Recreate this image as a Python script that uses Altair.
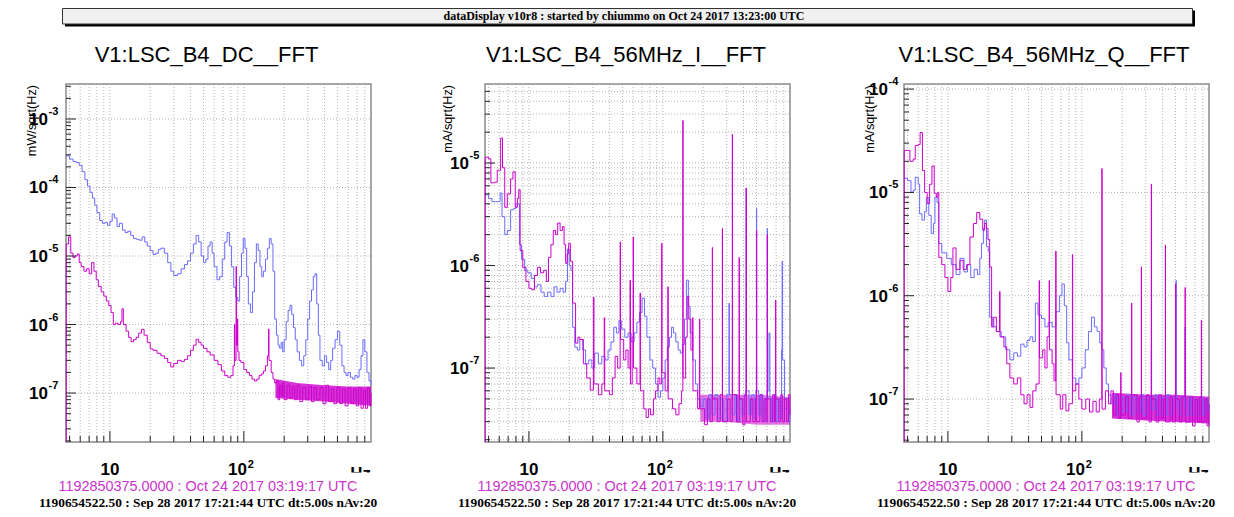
import altair as alt
import pandas as pd

SANS = "Liberation Sans"
SERIF = "Liberation Serif"
BLUE = "#6a6aff"
MAGENTA = "#cc00cc"
PINK = "#cc33cc"

BANNER = "dataDisplay v10r8 : started by chiummo on Oct 24 2017 13:23:00 UTC"
TITLES = ["V1:LSC_B4_DC__FFT", "V1:LSC_B4_56MHz_I__FFT", "V1:LSC_B4_56MHz_Q__FFT"]
UNITS = ["mW/sqrt(Hz)", "mA/sqrt(Hz)", "mA/sqrt(Hz)"]
TIME_NOW = "1192850375.0000 : Oct 24 2017 03:19:17 UTC"
TIME_REF = "1190654522.50 : Sep 28 2017 17:21:44 UTC dt:5.00s nAv:20"
X_TITLE = "Hz"

X_DOMAIN = [4.7, 890]
X_MINOR = [5, 6, 7, 8, 9, 20, 30, 40, 50, 60, 70, 80, 90, 200, 300, 400, 500, 600, 700, 800]
X_MAJOR = [10, 100]
Y_DOMAINS = [[1.93e-8, 3.24e-3], [1.9e-8, 5.9e-5], [3.84e-8, 1.12e-4]]
Y_EXPS = [[-3, -4, -5, -6, -7], [-5, -6, -7], [-4, -5, -6, -7]]
MANT = [2, 3, 4, 5, 6, 7, 8, 9]

# ---------------- panel 1 : V1:LSC_B4_DC__FFT ----------------
P1_BLUE = [(4.7,2.9e-4),(5.0,2.6e-4),(5.3,2.4e-4),(5.6,2.3e-4),(5.9,2.1e-4),(6.2,1.7e-4),(6.5,1.3e-4),(6.8,1.05e-4),(7.1,8.5e-5),(7.4,7.0e-5),(7.7,5.5e-5),(8.0,4.3e-5),(8.4,3.3e-5),(8.8,3.0e-5),(9.2,3.1e-5),(9.6,2.8e-5),(10.0,3.2e-5),(10.4,4.1e-5),(10.8,3.6e-5),(11.3,2.7e-5),(11.8,3.0e-5),(12.4,2.4e-5),(13.0,2.2e-5),(13.6,2.3e-5),(14.3,2.0e-5),(15.0,1.8e-5),(15.8,1.75e-5),(16.6,1.7e-5),(17.4,1.9e-5),(18.2,1.6e-5),(19.0,1.4e-5),(20.0,1.2e-5),(21.0,1.05e-5),(22.0,1.1e-5),(23.0,1.25e-5),(24.0,1.3e-5),(25.5,1.1e-5),(27,8e-6),(28.5,6e-6),(30,5.2e-6),(32,5.5e-6),(34,6.5e-6),(36,7.5e-6),(38,8.5e-6),(40,1.1e-5),(42,1.5e-5),(44,2.0e-5),(46,1.6e-5),(48,1.0e-5),(50,8e-6),(52,9e-6),(54,1.4e-5),(56,1.6e-5),(58,1.1e-5),(60,7e-6),(63,4.5e-6),(66,5e-6),(69,9e-6),(72,1.6e-5),(75,2.2e-5),(78,1.4e-5),(81,7e-6),(84,3.5e-6),(87,2.5e-6),(90,2.2e-6),(93,5e-6),(96,1.1e-5),(99,1.8e-5),(102,1.3e-5),(105,5e-6),(108,2e-6),(112,1.5e-6),(116,3e-6),(120,8e-6),(124,1.5e-5),(128,1.2e-5),(132,7e-6),(136,5e-6),(140,6e-6),(145,9e-6),(150,1.3e-5),(155,1.8e-5),(160,1.5e-5),(165,6e-6),(170,1.2e-6),(175,7e-7),(180,5e-7),(185,4.5e-7),(190,5.5e-7),(195,4e-7),(200,6e-7),(207,1.1e-6),(214,1.6e-6),(221,1.9e-6),(228,1.4e-6),(235,9e-7),(242,6e-7),(250,4e-7),(260,3e-7),(270,2.5e-7),(280,3.5e-7),(290,6e-7),(300,1.2e-6),(310,2.2e-6),(320,3.2e-6),(330,5e-6),(340,5.5e-6),(350,2e-6),(360,7e-7),(370,3e-7),(385,2.5e-7),(400,3.5e-7),(415,2.8e-7),(430,2.2e-7),(445,3e-7),(460,4.5e-7),(480,6e-7),(500,8e-7),(520,5e-7),(540,2.5e-7),(560,2e-7),(580,1.8e-7),(600,2e-7),(625,1.7e-7),(650,1.6e-7),(675,1.8e-7),(700,1.7e-7),(725,2.2e-7),(750,3.5e-7),(775,6e-7),(800,4e-7),(830,2e-7),(860,1.5e-7),(890,1.3e-7)]
P1_MAG = [(4.7,1e-9),(4.72,1.5e-5),(4.9,1.9e-5),(5.1,1.1e-5),(5.3,9.5e-6),(5.5,1.0e-5),(5.7,1.07e-5),(5.9,8e-6),(6.1,7e-6),(6.4,6e-6),(6.7,6.5e-6),(7.0,5.5e-6),(7.3,8e-6),(7.6,6e-6),(7.9,4.5e-6),(8.2,3.6e-6),(8.6,3e-6),(9.0,2.6e-6),(9.4,2.2e-6),(9.8,1.9e-6),(10.2,1.5e-6),(10.6,1.0e-6),(11.0,1.05e-6),(11.5,1.0e-6),(12.0,1.1e-6),(12.3,1.7e-6),(12.6,1.0e-6),(13.2,8e-7),(13.8,6.5e-7),(14.4,5.6e-7),(15.0,6e-7),(15.7,6.5e-7),(16.4,7.5e-7),(17.2,8.5e-7),(18.0,7e-7),(19.0,5.5e-7),(20.0,4.4e-7),(21.0,4.2e-7),(22.5,3.8e-7),(24.0,3.5e-7),(25.5,3.2e-7),(27.0,2.8e-7),(28.5,2.4e-7),(30,2.7e-7),(32,3e-7),(34,2.9e-7),(36,3.1e-7),(38,3.5e-7),(40,4.2e-7),(42,5e-7),(44,6.1e-7),(46,5.5e-7),(48,5e-7),(50,4.5e-7),(53,4e-7),(56,3.6e-7),(60,3e-7),(64,2.6e-7),(68,2.1e-7),(72,1.8e-7),(76,1.7e-7),(80,1.8e-7),(83,2.5e-7),(85,1.0e-6),(85.6,3e-7),(87.5,7e-6),(88.1,5e-7),(89.5,1.2e-6),(90.1,4e-7),(92,3e-7),(95,2.8e-7),(100,2.2e-7),(105,2e-7),(110,1.8e-7),(115,1.6e-7),(120,1.5e-7),(125,1.6e-7),(130,1.8e-7),(135,1.9e-7),(140,2.1e-7),(145,2.5e-7),(150,3.5e-7),(153,8.6e-7),(154,3e-7),(160,2e-7),(165,1.6e-7),(170,1.4e-7),(175,1.5e-7),(180,8e-8),(185,1.3e-7),(190,9e-8),(195,1.4e-7),(200,8e-8),(210,1.3e-7),(220,8.5e-8),(230,1.25e-7),(240,8e-8),(250,1.3e-7),(262,7.5e-8),(275,1.2e-7),(290,8e-8),(305,1.25e-7),(320,7.5e-8),(335,1.2e-7),(350,8e-8),(370,1.2e-7),(390,7e-8),(410,1.3e-7),(430,7.5e-8),(450,1.15e-7),(470,7e-8),(495,1.2e-7),(520,7e-8),(545,1.15e-7),(570,6.5e-8),(600,1.2e-7),(630,7e-8),(660,1.15e-7),(690,6.5e-8),(720,1.2e-7),(750,6e-8),(780,1.1e-7),(810,6e-8),(840,1.2e-7),(870,6.5e-8),(890,1e-7)]
P1_BAND_F = [172, 250, 400, 600, 890]
P1_BAND_LO = [8.5e-8, 8e-8, 7.5e-8, 7e-8, 6.5e-8]
P1_BAND_HI = [1.6e-7, 1.4e-7, 1.3e-7, 1.25e-7, 1.25e-7]

# ---------------- panel 2 : V1:LSC_B4_56MHz_I__FFT ----------------
P2_BLUE = [(4.72,4.9e-6),(5.0,4.5e-6),(5.3,4.2e-6),(5.6,4.2e-6),(5.9,4.2e-6),(6.1,5.1e-6),(6.3,3e-6),(6.6,2e-6),(6.9,2.2e-6),(7.3,3.5e-6),(7.7,3.6e-6),(8.0,4e-6),(8.3,4e-6),(8.5,1.6e-6),(8.8,1.15e-6),(9.3,9e-7),(9.8,8.5e-7),(10.4,7.5e-7),(11.0,6.2e-7),(11.6,6.5e-7),(12.3,5.5e-7),(13.0,5e-7),(13.8,5.5e-7),(14.6,5e-7),(15.4,6.2e-7),(16.2,5.5e-7),(17.1,6e-7),(18.0,5.5e-7),(18.8,7e-7),(19.4,1.45e-6),(20.0,1.0e-6),(20.6,9e-7),(21.2,2.5e-7),(22.0,1.6e-7),(23.0,1.5e-7),(24.0,1.9e-7),(25.2,1.5e-7),(26.5,1.1e-7),(28.0,1.2e-7),(29.5,1.0e-7),(31,1.4e-7),(33,1.1e-7),(35,1.3e-7),(37,1.2e-7),(39,1.5e-7),(41,1.8e-7),(43,2.5e-7),(45,2.2e-7),(47,2.9e-7),(49,2.4e-7),(52,2e-7),(55,2.2e-7),(58,1.8e-7),(61,2.2e-7),(64,2.8e-7),(67,3.5e-7),(70,4.8e-7),(73,3.2e-7),(76,2e-7),(80,1.2e-7),(84,1e-7),(88,7e-8),(92,5.2e-8),(96,6e-8),(100,8e-8),(104,1.2e-7),(108,1.6e-7),(112,2e-7),(116,2.5e-7),(120,2.2e-7),(125,1.8e-7),(130,1.5e-7),(135,1.4e-7),(140,1.7e-7),(145,3e-7),(150,7.2e-7),(155,4e-7),(160,2.2e-7),(167,1.2e-7),(175,7e-8),(182,5e-8),(190,4.2e-8),(200,5e-8),(210,3.2e-8),(220,5.5e-8),(232,3.5e-8),(245,5.5e-8),(258,3.2e-8),(270,5e-8),(285,3e-8),(300,5.5e-8),(312,4.3e-7),(313.5,5.5e-8),(330,3.5e-8),(345,5.5e-8),(360,3e-8),(375,5e-8),(390,3.5e-8),(405,5.5e-8),(415,6e-8),(419,5.7e-6),(421,6e-8),(440,3.5e-8),(460,5.5e-8),(480,3.2e-8),(495,6e-8),(500,3.6e-6),(502,6e-8),(520,3.5e-8),(540,5.5e-8),(560,3e-8),(580,5e-8),(598,6e-8),(602,2.3e-6),(604,6e-8),(620,2.2e-7),(630,5e-8),(650,3e-8),(675,5.5e-8),(700,3e-8),(725,5e-8),(750,3.2e-8),(770,1.5e-7),(778,1.1e-6),(781,1.2e-7),(810,4e-8),(840,5e-8),(865,3e-8),(890,4e-8)]
P2_MAG = [(4.7,1e-9),(4.72,1.14e-5),(5.0,1.1e-5),(5.2,6.4e-6),(5.5,6.5e-6),(5.8,8.5e-6),(6.0,8.5e-6),(6.15,1.75e-5),(6.35,9e-6),(6.6,3.7e-6),(6.9,5e-6),(7.3,7e-6),(7.6,8.2e-6),(7.9,3.7e-6),(8.2,4.5e-6),(8.4,5.5e-6),(8.6,1.4e-6),(9.0,9.6e-7),(9.5,7e-7),(10.0,6e-7),(10.5,5.8e-7),(11.0,8e-7),(11.6,9.6e-7),(12.2,8.5e-7),(12.9,9e-7),(13.5,7e-7),(14.0,1.2e-6),(14.6,1.6e-6),(15.2,2.2e-6),(15.8,2.0e-6),(16.4,2.6e-6),(17.1,2.2e-6),(17.8,2.4e-6),(18.3,1.6e-6),(18.8,1.05e-6),(19.3,1.3e-6),(19.8,1.65e-6),(20.4,1.1e-6),(21.2,4.3e-7),(22.3,1.75e-7),(23.2,2e-7),(24.0,1.9e-7),(25.5,1.1e-7),(27,8e-8),(28.7,6.1e-8),(30.3,4.9e-7),(30.6,7e-8),(33,5.5e-8),(35,7e-8),(36.5,3.1e-7),(36.8,6e-8),(40,5.5e-8),(42,8e-8),(44,1.3e-7),(46,1.0e-7),(48,1.7e-6),(48.3,1.9e-7),(51,1.2e-7),(53,1.5e-7),(55,1.0e-7),(56.9,7.2e-7),(57.3,7e-8),(59,2e-7),(60,1.9e-6),(60.4,1e-7),(64,7e-8),(67.6,5.4e-7),(68,6e-8),(72,4e-8),(75,3.3e-8),(78,4e-8),(81,3.5e-8),(85,5e-8),(88,6e-8),(92,8e-8),(95,7e-8),(98,1.65e-6),(98.5,9e-8),(104,6e-8),(109,6.2e-7),(109.6,5e-8),(118,4e-8),(125,3.5e-8),(132,4.5e-8),(138,6e-8),(141,2.6e-5),(141.6,8e-8),(148,2e-7),(152,5e-7),(156,3e-7),(162,1.5e-7),(167,3.1e-7),(167.8,6e-8),(182,4e-8),(188,3e-7),(188.8,4e-8),(205,2.8e-8),(215,5e-8),(225,3e-8),(234,1.5e-6),(235,5e-8),(255,3e-8),(268,5.5e-8),(278,2.3e-6),(279,3e-8),(305,5e-8),(318,3e-8),(330,1.9e-5),(331.5,5.5e-8),(355,3e-8),(371,1.2e-6),(372.5,5e-8),(395,2.8e-8),(410,5.5e-8),(419,5.7e-6),(420.5,3e-8),(450,5e-8),(470,3e-8),(490,5e-8),(500,2.2e-6),(502,3e-8),(530,5.5e-8),(550,3e-8),(570,5e-8),(590,3e-8),(602,2.0e-6),(604,5e-8),(635,3e-8),(660,5.5e-8),(680,3e-8),(695,4.6e-7),(697,5e-8),(735,3e-8),(760,5.5e-8),(785,3e-8),(810,5e-8),(840,3e-8),(865,5.5e-8),(890,3.5e-8)]
P2_BAND_F = [190, 300, 500, 890]
P2_BAND_LO = [3e-8, 3e-8, 2.8e-8, 2.8e-8]
P2_BAND_HI = [5.5e-8, 5.5e-8, 5.5e-8, 5.2e-8]

# ---------------- panel 3 : V1:LSC_B4_56MHz_Q__FFT ----------------
P3_BLUE = [(4.72,1.37e-5),(5.0,1.3e-5),(5.3,1.0e-5),(5.5,1.05e-5),(5.7,1.4e-5),(6.0,1.2e-5),(6.15,6.2e-6),(6.4,5.4e-6),(6.7,6.5e-6),(6.9,8.9e-6),(7.2,6e-6),(7.5,4e-6),(7.8,5e-6),(8.0,9e-6),(8.3,8e-6),(8.55,3.2e-6),(9.0,2.6e-6),(9.8,2.3e-6),(10.6,2.0e-6),(11.5,1.6e-6),(12.3,2.3e-6),(13.2,1.7e-6),(14.0,2.0e-6),(14.8,1.5e-6),(15.7,1.8e-6),(16.6,1.6e-6),(17.3,2.3e-6),(17.8,3.2e-6),(18.4,4.5e-6),(18.8,5.4e-6),(19.4,3e-6),(20.0,2.7e-6),(20.5,6.2e-7),(21.6,5e-7),(23,4.5e-7),(25,4e-7),(27,3e-7),(29,2.4e-7),(31,2.8e-7),(33,2.6e-7),(35,3.4e-7),(37,3.2e-7),(39,3.7e-7),(41,4e-7),(43,3.6e-7),(45,8.5e-7),(47,6.5e-7),(50,6e-7),(53,5e-7),(56,5.5e-7),(60,5e-7),(64,7e-7),(68,1.0e-6),(71,1.3e-6),(74,8e-7),(77,3.5e-7),(80,2.4e-7),(85,1.6e-7),(90,1.4e-7),(95,1.6e-7),(100,2e-7),(106,3e-7),(112,4.5e-7),(118,6.2e-7),(124,5e-7),(130,4.5e-7),(136,3.5e-7),(141,3e-7),(146,2e-7),(152,1.4e-7),(158,1.1e-7),(165,9e-8),(175,1.1e-7),(185,7e-8),(195,1.05e-7),(205,7.5e-8),(218,1.1e-7),(230,7e-8),(245,1.05e-7),(260,7.5e-8),(275,1.1e-7),(290,7e-8),(310,1.05e-7),(326,8e-8),(330,3e-7),(331.5,8e-8),(350,1.1e-7),(365,7e-8),(385,1.05e-7),(405,7e-8),(430,1.1e-7),(455,7e-8),(480,1.05e-7),(500,8e-8),(505,1.4e-6),(507,1e-7),(530,7e-8),(555,1.05e-7),(585,8e-8),(590,5e-7),(592,7e-8),(625,1.05e-7),(655,7e-8),(690,1e-7),(725,7e-8),(760,1.05e-7),(800,7e-8),(840,1e-7),(870,7.5e-8),(890,9e-8)]
P3_MAG = [(4.7,1e-9),(4.72,2.55e-5),(5.0,2.55e-5),(5.2,2.0e-5),(5.5,2.1e-5),(5.7,2.85e-5),(6.0,2.9e-5),(6.2,3.8e-5),(6.45,1.63e-5),(6.7,1e-5),(7.0,7.8e-6),(7.3,1.2e-5),(7.6,1.8e-5),(7.9,9.8e-6),(8.2,9e-6),(8.4,1e-5),(8.55,2.35e-6),(9.0,2.0e-6),(9.5,1.5e-6),(10.0,1.1e-6),(10.5,1.5e-6),(10.9,2.9e-6),(11.5,1.8e-6),(12.3,2.2e-6),(13.0,1.8e-6),(13.8,2.0e-6),(14.6,3.7e-6),(15.5,5e-6),(16.4,6.4e-6),(17.3,5.5e-6),(18.2,4.3e-6),(18.8,5e-6),(19.4,4.5e-6),(19.9,3.5e-6),(20.5,1.9e-6),(21.2,5e-7),(22,6.2e-7),(23,4.5e-7),(24.3,1.1e-6),(24.5,4e-7),(26.2,3.2e-7),(27.5,2.2e-7),(29,1.6e-7),(31,1.4e-7),(33,1.6e-7),(35,1.1e-7),(37,9e-8),(39,1.1e-7),(41,8.3e-8),(43,1.2e-7),(45.5,1.4e-7),(48,1.4e-6),(48.3,2.5e-7),(51,3e-7),(53,2e-7),(55,4e-7),(57,1.4e-6),(57.3,3e-7),(60,2.2e-7),(62,1.5e-7),(63.8,2.7e-6),(64.2,1.1e-7),(69,8e-8),(72,1.1e-7),(76,7.7e-8),(80,9e-8),(85,2.5e-6),(85.4,1.2e-7),(90,1.4e-7),(95,1.0e-7),(100,8e-8),(107,1e-7),(114,7.5e-8),(121,9.5e-8),(128,7.5e-8),(135,1.0e-7),(141,1.7e-5),(141.6,8e-8),(150,1.2e-7),(158,9e-8),(165,1.2e-7),(172,7e-8),(180,1.1e-7),(188,6.5e-8),(195,1.8e-7),(196,7e-8),(212,1.05e-7),(222,6.5e-8),(235,8.5e-7),(236,1.1e-7),(258,6e-8),(268,1.05e-7),(278,1.9e-6),(279,6.5e-8),(305,1.1e-7),(318,6e-8),(330,1.2e-5),(331.5,1.0e-7),(358,6e-8),(375,1.1e-7),(392,6.5e-8),(408,1e-7),(420,3.1e-6),(421.5,6e-8),(455,1.05e-7),(475,6e-8),(500,1.3e-6),(502,1e-7),(535,6e-8),(560,1.05e-7),(590,1.2e-6),(592,6e-8),(640,1.05e-7),(670,5.5e-8),(700,1e-7),(730,6e-8),(760,1.05e-7),(780,5.8e-7),(783,6e-8),(830,1e-7),(860,5.5e-8),(890,9e-8)]
P3_BAND_F = [168, 300, 500, 890]
P3_BAND_LO = [6.5e-8, 6.2e-8, 6e-8, 5.8e-8]
P3_BAND_HI = [1.15e-7, 1.1e-7, 1.1e-7, 1.05e-7]

BLUES = [P1_BLUE, P2_BLUE, P3_BLUE]
MAGS = [P1_MAG, P2_MAG, P3_MAG]
BANDS = [(P1_BAND_F, P1_BAND_LO, P1_BAND_HI), (P2_BAND_F, P2_BAND_LO, P2_BAND_HI), (P3_BAND_F, P3_BAND_LO, P3_BAND_HI)]
BAND_OPACITY = [0.8, 0.55, 0.8]
H_GRID_MINOR = [False, True, False]

# ---------------- layout (chart pixel coordinates) ----------------
W, H = 1215, 501
PX0 = [58, 477, 896]
PW = 305
YT, YB = 76, 434
LAB_OFF = [18, 16, 16]
UNIT_OFF = [30, 33, 30]
TITLE_CX = [198.5, 618, 1036]
FOOT_CX = [200, 619, 1038]


def one(t=""):
    return pd.DataFrame({"t": [t]})


layers = []

# banner
layers.append(alt.Chart(one()).mark_rect(color="black").encode(
    x=alt.value(57), x2=alt.value(1187), y=alt.value(2.5), y2=alt.value(18.5)))
layers.append(alt.Chart(one()).mark_rect(fill="#f0f0f0", stroke="#333333", strokeWidth=1).encode(
    x=alt.value(54.5), x2=alt.value(1184.5), y=alt.value(0.5), y2=alt.value(16)))
layers.append(alt.Chart(one(BANNER)).mark_text(font=SERIF, fontWeight="bold", fontSize=12, align="center",
                                               baseline="alphabetic").encode(
    x=alt.value(616), y=alt.value(12), text="t:N"))

for i in range(3):
    x0 = PX0[i]
    x1 = x0 + PW
    xs = alt.Scale(type="log", domain=X_DOMAIN, range=[x0, x1], nice=False, clamp=True)
    ys = alt.Scale(type="log", domain=Y_DOMAINS[i], range=[YB, YT], nice=False, clamp=True)
    lo, hi = Y_DOMAINS[i]
    majors = [10.0 ** e for e in Y_EXPS[i]]
    minors = [m * 10.0 ** e for e in range(-9, -2) for m in MANT if lo <= m * 10.0 ** e <= hi]

    # vertical grid
    layers.append(alt.Chart(pd.DataFrame({"f": X_MINOR + X_MAJOR})).mark_rule(
        color="#b4b4b4", strokeDash=[1, 2], strokeWidth=1).encode(
        x=alt.X("f:Q", scale=xs, axis=None), y=alt.value(YT), y2=alt.value(YB)))
    # horizontal grid
    hg = majors + (minors if H_GRID_MINOR[i] else [])
    layers.append(alt.Chart(pd.DataFrame({"v": hg})).mark_rule(
        color="#b4b4b4", strokeDash=[1, 2], strokeWidth=1).encode(
        y=alt.Y("v:Q", scale=ys, axis=None), x=alt.value(x0), x2=alt.value(x1)))
    # frame
    layers.append(alt.Chart(one()).mark_rect(fillOpacity=0, stroke="#8a8a8a", strokeWidth=1.5).encode(
        x=alt.value(x0), x2=alt.value(x1), y=alt.value(YT), y2=alt.value(YB)))
    # noise band
    bf, blo, bhi = BANDS[i]
    layers.append(alt.Chart(pd.DataFrame({"f": bf, "lo": blo, "hi": bhi})).mark_area(
        color=MAGENTA, opacity=BAND_OPACITY[i]).encode(
        x=alt.X("f:Q", scale=xs, axis=None), y=alt.Y("lo:Q", scale=ys, axis=None), y2="hi:Q"))
    # spectra
    layers.append(alt.Chart(pd.DataFrame(BLUES[i], columns=["f", "v"])).mark_line(
        color=BLUE, strokeWidth=1, interpolate="step-after").encode(
        x=alt.X("f:Q", scale=xs, axis=None), y=alt.Y("v:Q", scale=ys, axis=None)))
    layers.append(alt.Chart(pd.DataFrame(MAGS[i], columns=["f", "v"])).mark_line(
        color=MAGENTA, strokeWidth=1, interpolate="step-after").encode(
        x=alt.X("f:Q", scale=xs, axis=None), y=alt.Y("v:Q", scale=ys, axis=None)))
    # x ticks (inside, bottom)
    layers.append(alt.Chart(pd.DataFrame({"f": X_MINOR})).mark_rule(color="#222222", strokeWidth=1).encode(
        x=alt.X("f:Q", scale=xs, axis=None), y=alt.value(YB), y2=alt.value(YB - 6)))
    layers.append(alt.Chart(pd.DataFrame({"f": X_MAJOR})).mark_rule(color="#222222", strokeWidth=1).encode(
        x=alt.X("f:Q", scale=xs, axis=None), y=alt.value(YB), y2=alt.value(YB - 11)))
    # y ticks (inside, left)
    layers.append(alt.Chart(pd.DataFrame({"v": minors})).mark_rule(color="#222222", strokeWidth=1).encode(
        y=alt.Y("v:Q", scale=ys, axis=None), x=alt.value(x0), x2=alt.value(x0 + 5)))
    layers.append(alt.Chart(pd.DataFrame({"v": majors})).mark_rule(color="#222222", strokeWidth=1).encode(
        y=alt.Y("v:Q", scale=ys, axis=None), x=alt.value(x0), x2=alt.value(x0 + 10)))
    # y labels 10^e
    lab = pd.DataFrame({"v": majors, "t": ["10"] * len(majors), "e": [str(e) for e in Y_EXPS[i]]})
    layers.append(alt.Chart(lab).mark_text(font=SANS, fontSize=17, fontWeight="bold", align="right",
                                           baseline="middle", dy=1).encode(
        x=alt.value(x0 - LAB_OFF[i]), y=alt.Y("v:Q", scale=ys, axis=None), text="t:N"))
    layers.append(alt.Chart(lab).mark_text(font=SANS, fontSize=11, fontWeight="bold", align="left",
                                           baseline="middle", dy=-7).encode(
        x=alt.value(x0 - LAB_OFF[i] + 0.5), y=alt.Y("v:Q", scale=ys, axis=None), text="e:N"))
    # x labels
    layers.append(alt.Chart(pd.DataFrame({"f": [10], "t": ["10"]})).mark_text(
        font=SANS, fontSize=17, fontWeight="bold", align="center", baseline="alphabetic").encode(
        x=alt.X("f:Q", scale=xs, axis=None), y=alt.value(467), text="t:N"))
    layers.append(alt.Chart(pd.DataFrame({"f": [100], "t": ["10"]})).mark_text(
        font=SANS, fontSize=17, fontWeight="bold", align="right", baseline="alphabetic", dx=3).encode(
        x=alt.X("f:Q", scale=xs, axis=None), y=alt.value(467), text="t:N"))
    layers.append(alt.Chart(pd.DataFrame({"f": [100], "t": ["2"]})).mark_text(
        font=SANS, fontSize=11, fontWeight="bold", align="left", baseline="alphabetic", dx=4).encode(
        x=alt.X("f:Q", scale=xs, axis=None), y=alt.value(460), text="t:N"))
    # x title (cut off by the footer, as in the original)
    layers.append(alt.Chart(one(X_TITLE)).mark_text(font=SANS, fontSize=17, fontWeight="bold", align="right",
                                                    baseline="alphabetic").encode(
        x=alt.value(x1), y=alt.value(471), text="t:N"))
    layers.append(alt.Chart(one()).mark_rect(color="white").encode(
        x=alt.value(x1 - 30), x2=alt.value(x1 + 6), y=alt.value(464.5), y2=alt.value(482)))
    # y title
    layers.append(alt.Chart(one(UNITS[i])).mark_text(font=SANS, fontSize=12.7, angle=270, align="right",
                                                     baseline="alphabetic").encode(
        x=alt.value(x0 - UNIT_OFF[i]), y=alt.value(77), text="t:N"))
    # panel title
    layers.append(alt.Chart(one(TITLES[i])).mark_text(font=SANS, fontSize=22, align="center",
                                                      baseline="alphabetic").encode(
        x=alt.value(TITLE_CX[i]), y=alt.value(54), text="t:N"))
    # footers
    layers.append(alt.Chart(one(TIME_NOW)).mark_text(font=SANS, fontSize=14.4, color=PINK, align="center",
                                                     baseline="alphabetic").encode(
        x=alt.value(FOOT_CX[i]), y=alt.value(483), text="t:N"))
    layers.append(alt.Chart(one(TIME_REF)).mark_text(font=SERIF, fontSize=13.4, fontWeight="bold", align="center",
                                                     baseline="alphabetic").encode(
        x=alt.value(FOOT_CX[i]), y=alt.value(499), text="t:N"))

chart = alt.layer(*layers).resolve_scale(x="independent", y="independent").properties(
    width=W, height=H, autosize=alt.AutoSizeParams(type="none"), padding=0
).configure_view(strokeOpacity=0)

chart.save("out.html", embed_options={"renderer": "svg", "actions": False})
